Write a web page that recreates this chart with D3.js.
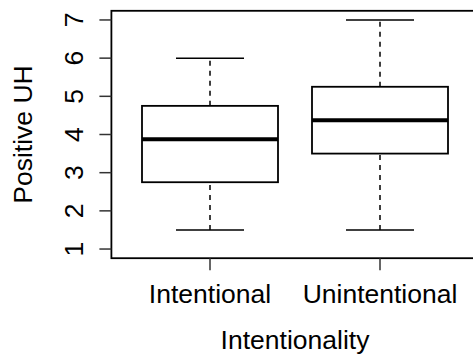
<!DOCTYPE html>
<html>
<head>
<meta charset="utf-8">
<script src="https://cdn.jsdelivr.net/npm/d3@7"></script>
<style>
  html, body { margin: 0; padding: 0; background: #fff; }
  svg { display: block; }
  text { font-family: "Liberation Sans", Arial, Helvetica, sans-serif; fill: #000; }
</style>
</head>
<body>
<script>
// ---- data ----
const categories = ["Intentional", "Unintentional"];
const whiskerLow  = [1.5, 1.5];
const q1Values    = [2.75, 3.5];
const medians     = [3.875, 4.375];
const q3Values    = [4.75, 5.25];
const whiskerHigh = [6, 7];
const yTicks      = [1, 2, 3, 4, 5, 6, 7];
const xTitle = "Intentionality";
const yTitle = "Positive UH";

(function () {
// ---- layout ----
const W = 473, H = 363;
const svg = d3.select("body").append("svg").attr("width", W).attr("height", H);

const pL = 111.4, pR = 478.6, pT = 10.8, pB = 258.2;
const y = d3.scaleLinear().domain([0.76, 7.24]).range([pB, pT]);
const x = d3.scalePoint().domain(categories).range([125, 465]).padding(0.5);
const step = x.step();
const boxW = 0.8 * step;
const capW = boxW / 2;
const fs = 26.5;

const data = categories.map((c, i) => ({
  cat: c, lo: whiskerLow[i], q1: q1Values[i], med: medians[i], q3: q3Values[i], hi: whiskerHigh[i]
}));

const g = svg.append("g");

data.forEach(d => {
  const cx = x(d.cat);
  g.append("line").attr("x1", cx).attr("x2", cx).attr("y1", y(d.q3)).attr("y2", y(d.hi))
    .attr("stroke", "#000").attr("stroke-width", 1.5).attr("stroke-dasharray", "5,5");
  g.append("line").attr("x1", cx).attr("x2", cx).attr("y1", y(d.lo)).attr("y2", y(d.q1))
    .attr("stroke", "#000").attr("stroke-width", 1.5).attr("stroke-dasharray", "5,5");
  [d.lo, d.hi].forEach(v => {
    g.append("line").attr("x1", cx - capW / 2).attr("x2", cx + capW / 2)
      .attr("y1", y(v)).attr("y2", y(v))
      .attr("stroke", "#000").attr("stroke-width", 1.5);
  });
  g.append("rect").attr("x", cx - boxW / 2).attr("y", y(d.q3))
    .attr("width", boxW).attr("height", y(d.q1) - y(d.q3))
    .attr("fill", "#fff").attr("stroke", "#000").attr("stroke-width", 1.8);
  g.append("line").attr("x1", cx - boxW / 2).attr("x2", cx + boxW / 2)
    .attr("y1", y(d.med)).attr("y2", y(d.med))
    .attr("stroke", "#000").attr("stroke-width", 4);
});

svg.append("rect").attr("x", pL).attr("y", pT)
  .attr("width", pR - pL).attr("height", pB - pT)
  .attr("fill", "none").attr("stroke", "#000").attr("stroke-width", 1.8);

const tickLen = 12;
yTicks.forEach(v => {
  svg.append("line").attr("x1", pL - tickLen).attr("x2", pL)
    .attr("y1", y(v)).attr("y2", y(v))
    .attr("stroke", "#333").attr("stroke-width", 1.5);
  svg.append("text")
    .attr("transform", `translate(83,${y(v)}) rotate(-90)`)
    .attr("text-anchor", "middle").attr("font-size", fs).text(v);
});

categories.forEach(c => {
  svg.append("line").attr("x1", x(c)).attr("x2", x(c))
    .attr("y1", pB).attr("y2", pB + tickLen)
    .attr("stroke", "#333").attr("stroke-width", 1.5);
  svg.append("text").attr("x", x(c)).attr("y", 302.5)
    .attr("text-anchor", "middle").attr("font-size", fs).text(c);
});

svg.append("text").attr("x", (pL + pR) / 2).attr("y", 349)
  .attr("text-anchor", "middle").attr("font-size", fs).text(xTitle);
svg.append("text")
  .attr("transform", `translate(32,${(pT + pB) / 2}) rotate(-90)`)
  .attr("text-anchor", "middle").attr("font-size", fs).text(yTitle);
})();
</script>
</body>
</html>
